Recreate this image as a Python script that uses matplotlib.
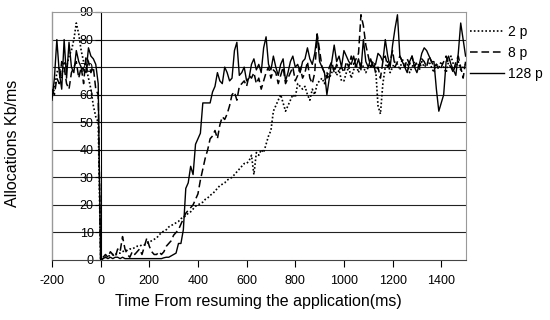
import numpy as np
import matplotlib.pyplot as plt

plt.rcParams['font.family'] = ['Liberation Sans', 'DejaVu Sans']
plt.rcParams['axes.unicode_minus'] = False

# sample times (ms), one value every 10 ms from -200 to 1500
time = np.arange(-200, 1501, 10)

# 2 processors (dotted)
p2 = [60, 62, 68, 70, 66, 72, 70, 74, 76, 80,
      86, 82, 76, 72, 70, 66, 62, 56, 52, 50,
      0, 0.5, 1, 1.5, 1.5, 2, 2, 2.5, 2.5, 3,
      3.5, 3.5, 4, 4, 4.5, 5, 5, 5.5, 5.5, 6,
      6.5, 7, 7.5, 8, 9, 10, 10.5, 11, 12, 12.5,
      13, 13.5, 14, 15, 15.5, 16, 17, 17.5, 18.5, 19.5,
      20, 20.5, 21, 22, 22.5, 23.5, 24, 25, 26, 27,
      27.5, 28, 29, 29.5, 30, 31, 32, 33, 34, 35,
      35, 36, 38, 31, 39, 38, 40, 39, 42, 45,
      47, 54, 56, 58, 60, 57, 54, 56, 58, 60,
      59, 64, 63, 62, 63, 60, 58, 62, 60, 64,
      65, 66, 64, 68, 66, 68, 70, 67, 69, 65,
      65, 68, 70, 66, 69, 71, 68, 72, 70, 68,
      70, 71, 72, 70, 56, 53, 64, 70, 72, 68,
      70, 72, 71, 69, 73, 70, 71, 68, 70, 72,
      71, 69, 72, 70, 71, 72, 70, 68, 71, 70,
      72, 70, 68, 72, 74, 71, 70, 72, 69, 70,
      71]

# 8 processors (dashed)
p8 = [62, 60, 66, 64, 72, 70, 64, 62, 68, 70,
      72, 66, 70, 64, 74, 72, 68, 70, 62, 60,
      0, 1, 2, 1, 3, 2, 1, 4, 3, 8.5,
      4, 2, 1, 3, 2, 3, 4, 2, 5, 8,
      5, 3, 2, 2, 3, 2, 3, 5, 6, 7,
      9, 10, 11, 13, 15, 17, 18, 19, 20, 22,
      24, 29, 33, 37, 40, 44, 45, 47, 44, 49,
      52, 51, 53, 56, 60, 61, 58, 63, 64, 65,
      63, 67, 66, 68, 64, 66, 62, 65, 68, 70,
      66, 69, 68, 64, 67, 70, 64, 66, 68, 70,
      65, 67, 70, 66, 68, 72, 66, 64, 68, 82,
      76, 70, 68, 66, 70, 72, 68, 71, 69, 70,
      68, 72, 70, 74, 71, 73, 75, 89, 85, 78,
      74, 70, 72, 68, 70, 66, 72, 74, 70, 72,
      76, 70, 72, 74, 72, 70, 73, 71, 74, 70,
      72, 70, 73, 72, 70, 74, 72, 70, 71, 69,
      70, 72, 74, 71, 70, 68, 72, 74, 70, 66,
      72]

# 128 processors (solid)
p128 = [58, 66, 80, 68, 62, 80, 66, 79, 70, 68,
        76, 72, 70, 69, 68, 77, 74, 73, 71, 64,
        0, 0.5, 1, 0.5, 1, 0.5, 1, 1, 0.5, 1,
        0.5, 0.5, 0.5, 0.5, 0.5, 0.5, 0.5, 0.5, 0.5, 0.5,
        0.5, 0.5, 0.5, 0.5, 0.5, 0.5, 0.8, 1, 1, 1.5,
        2, 2.5, 6, 6, 11, 26, 28, 34, 31, 42,
        44, 46, 57, 57, 57, 57, 61, 63, 68, 65,
        64, 70, 68, 65, 66, 76, 79, 67, 68, 70,
        65, 66, 71, 73, 69, 71, 68, 77, 81, 71,
        69, 74, 70, 67, 71, 73, 65, 68, 72, 74,
        70, 71, 68, 72, 73, 77, 73, 71, 75, 82,
        72, 70, 68, 60, 66, 72, 78, 72, 74, 70,
        76, 74, 72, 71, 74, 70, 73, 69, 80, 72,
        70, 73, 70, 71, 75, 74, 72, 80, 74, 70,
        78, 84, 89, 74, 72, 70, 68, 72, 74, 70,
        68, 71, 75, 77, 76, 74, 72, 72, 62, 54,
        57, 60, 72, 74, 71, 69, 67, 75, 86, 80,
        74]

fig = plt.figure(figsize=(5.5, 3.2), dpi=100)
ax = fig.add_axes([0.0945, 0.1875, 0.752, 0.775])

for y in range(10, 90, 10):
    ax.axhline(y, color='#222222', lw=0.8, zorder=1)

ax.plot(time, p2, color='black', lw=1.2, ls=(0, (1, 1.3)), label='2 p', zorder=3)
ax.plot(time, p8, color='black', lw=1.1, ls=(0, (5, 2.5)), label='8 p', zorder=3)
ax.plot(time, p128, color='black', lw=1.0, label='128 p', zorder=3)

ax.set_xlim(-200, 1500)
ax.set_ylim(0, 90)
ax.set_xticks(np.arange(-200, 1401, 200))
ax.set_yticks(np.arange(0, 91, 10))

ax.spines['left'].set_position(('data', 0))
ax.spines['left'].set_color('black')
ax.spines['bottom'].set_color('#444444')
ax.spines['top'].set_color('#999999')
ax.spines['right'].set_color('#999999')
ax.axvline(-200, color='#999999', lw=1.0, clip_on=False)

ax.tick_params(axis='y', length=4, width=0.8, labelsize=9, pad=1)
ax.tick_params(axis='x', length=5, width=0.8, labelsize=9, pad=6)

ax.set_xlabel('Time From resuming the application(ms)', fontsize=11.5, labelpad=5)
ax.set_ylabel('Allocations Kb/ms', fontsize=11.5)
ax.yaxis.set_label_coords(-0.077, 0.47)

fig.legend(loc='upper left', bbox_to_anchor=(0.831, 0.96), frameon=False,
           fontsize=10, handlelength=2.5, handletextpad=0.3, labelspacing=0.5)

fig.savefig('out.png', dpi=100)
